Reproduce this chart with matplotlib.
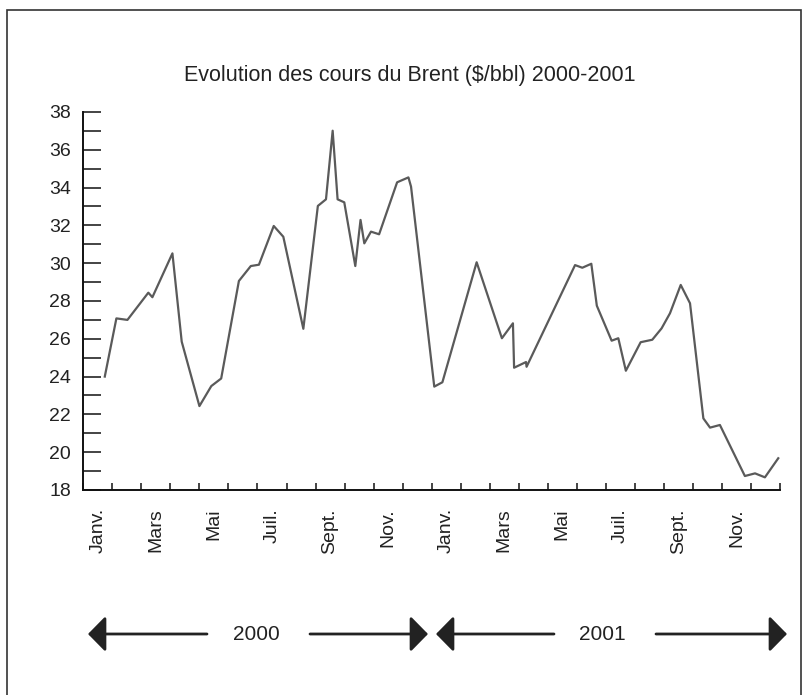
import matplotlib
matplotlib.use("Agg")
import matplotlib.pyplot as plt
from matplotlib.patches import Rectangle

plt.rcParams["font.family"] = ["Liberation Sans", "DejaVu Sans"]

# Brent price, x = months since start of Jan 2000
months = [0.74, 1.14, 1.52, 2.24, 2.38, 3.07, 3.39, 4.00, 4.41, 4.75,
          5.36, 5.77, 6.05, 6.56, 6.89, 7.58, 8.08, 8.36, 8.59, 8.76,
          8.99, 9.37, 9.55, 9.68, 9.91, 10.19, 10.81, 11.20, 11.29, 12.09,
          12.37, 13.55, 14.42, 14.80, 14.84, 15.25, 15.27, 16.94, 17.19, 17.50,
          17.69, 18.20, 18.43, 18.69, 19.20, 19.60, 19.92, 20.21, 20.58, 20.90,
          21.36, 21.59, 21.93, 22.79, 23.14, 23.48, 23.94]
prices = [24.0, 27.08, 27.0, 28.44, 28.2, 30.52, 25.85, 22.44, 23.5, 23.9,
          29.06, 29.85, 29.92, 31.97, 31.4, 26.53, 33.03, 33.38, 37.01, 33.38,
          33.22, 29.85, 32.29, 31.05, 31.67, 31.53, 34.28, 34.54, 34.05, 23.47,
          23.7, 30.05, 26.03, 26.82, 24.47, 24.77, 24.52, 29.9, 29.76, 29.97,
          27.75, 25.9, 26.03, 24.31, 25.82, 25.95, 26.55, 27.35, 28.85, 27.88,
          21.79, 21.3, 21.44, 18.74, 18.88, 18.67, 19.68]

month_labels = ["Janv.", "Mars", "Mai", "Juil.", "Sept.", "Nov."] * 2
label_pos = [0.5 + 2 * i for i in range(12)]
years = ["2000", "2001"]

W, H = 809, 695
fig = plt.figure(figsize=(W / 100, H / 100), dpi=100)
ax = fig.add_axes([83.3 / W, 1 - 490 / H, (780 - 83.3) / W, (490 - 112) / H])

ax.plot(months, prices, color="#5a5a5a", lw=1.6)

ax.set_xlim(0, 24)
ax.set_ylim(18, 38)
for s in ["top", "right"]:
    ax.spines[s].set_visible(False)
for s in ["left", "bottom"]:
    ax.spines[s].set_linewidth(1.4)
    ax.spines[s].set_color("#111111")

# x: ticks at month boundaries, labels centred on the months
ax.set_xticks(range(0, 25))
ax.set_xticklabels([])
ax.set_xticks(label_pos, minor=True)
ax.set_xticklabels(month_labels, minor=True, rotation=90, fontsize=14, color="#222222")
ax.tick_params(axis="x", which="major", direction="in", length=5, width=1.1, color="#111111")
ax.tick_params(axis="x", which="minor", length=0, pad=13)

# y: every unit ticked, every 2 labelled
ax.set_yticks(range(18, 39, 2))
ax.set_yticks(range(19, 38, 2), minor=True)
ax.tick_params(axis="y", which="both", direction="in", length=13, width=1.1,
               color="#111111", labelsize=14, labelcolor="#222222", pad=9)

fig.text(410 / W, 1 - 75 / H, "Evolution des cours du Brent ($/bbl) 2000-2001",
         ha="center", va="center", fontsize=15.5, color="#222222")

# year arrows under the axis
arrow_y = 1 - 634 / H
spans = [(88, 207, 310, 428, 256), (436, 554, 656, 787, 602)]
for (x0, x1, x2, x3, xt), yr in zip(spans, years):
    style = dict(arrowstyle="-|>,head_length=1.08,head_width=1.1", mutation_scale=10,
                 lw=2.0, color="#222222", shrinkA=0, shrinkB=0)
    fig.add_artist(plt.Annotation("", xy=(x0 / W, arrow_y), xytext=(x1 / W, arrow_y),
                                  xycoords="figure fraction", textcoords="figure fraction",
                                  arrowprops=style))
    fig.add_artist(plt.Annotation("", xy=(x3 / W, arrow_y), xytext=(x2 / W, arrow_y),
                                  xycoords="figure fraction", textcoords="figure fraction",
                                  arrowprops=style))
    fig.text(xt / W, arrow_y, yr, ha="center", va="center", fontsize=15, color="#222222")

# outer frame
fig.add_artist(Rectangle((7 / W, -0.02), (801 - 7) / W, 1.02 - 10 / H,
                         transform=fig.transFigure, fill=False, lw=1.2, edgecolor="#333333"))

fig.savefig("out.png", dpi=100)
